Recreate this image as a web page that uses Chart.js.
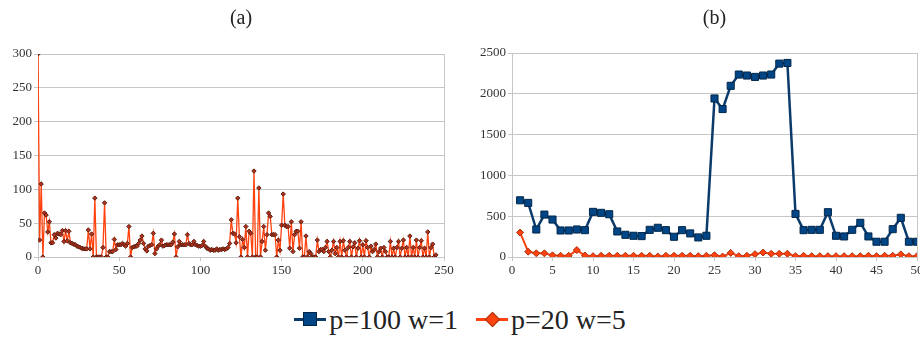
<!DOCTYPE html>
<html>
<head>
<meta charset="utf-8">
<script src="https://cdn.jsdelivr.net/npm/chart.js@4/dist/chart.umd.min.js"></script>
<style>
  html, body { margin: 0; padding: 0; background: #fff; overflow: hidden; width: 920px; height: 338px; }
  #chartA { position: absolute; left: 0; top: 0; }
  #chartB { position: absolute; left: 458px; top: 0; }
  #legend { position: absolute; left: 0; top: 304px; width: 920px; display: flex; justify-content: center;
            font-family: 'Liberation Serif', 'DejaVu Serif', 'Times New Roman', Times, 'Noto Serif', FreeSerif, serif;
            font-size: 28px; line-height: 32px; color: #222; }
  .item { display: flex; align-items: center; margin: 0 9px; }
  .sym { position: relative; width: 32px; height: 16px; margin-right: 3px; }
  .ln { position: absolute; left: 0; right: 0; top: 6px; height: 3px; }
  .mk { position: absolute; box-sizing: border-box; }
</style>
</head>
<body>
<canvas id="chartA" width="460" height="290"></canvas>
<canvas id="chartB" width="475" height="290"></canvas>
<div id="legend"></div>
<script>
// (a) one value per step, x = 0, 1, 2 ...
const valuesA = [
  300, 25, 108, 0, 65, 62, 37, 52, 21, 21,
  33, 28, 35, 34, 33, 39, 23, 39, 24, 38,
  21, 20, 19, 18, 16, 15, 14, 13, 12, 12,
  12, 40, 12, 34, 0, 87, 0, 0, 0, 0,
  14, 80, 0, 0, 8, 8, 8, 26, 11, 18,
  18, 18, 20, 18, 16, 20, 45, 0, 14, 15,
  16, 16, 20, 25, 31, 20, 12, 9, 16, 17,
  18, 35, 5, 12, 16, 18, 25, 16, 17, 18,
  18, 18, 18, 22, 34, 0, 15, 23, 18, 18,
  18, 18, 33, 20, 18, 18, 23, 18, 17, 16,
  16, 17, 23, 16, 13, 12, 10, 11, 10, 10,
  12, 10, 11, 11, 12, 11, 12, 14, 20, 55,
  35, 34, 21, 87, 30, 0, 26, 14, 45, 0,
  38, 35, 0, 127, 0, 0, 102, 0, 23, 45,
  10, 33, 65, 60, 33, 33, 33, 0, 25, 10,
  47, 93, 47, 45, 45, 13, 52, 8, 33, 38,
  38, 13, 52, 0, 0, 31, 0, 8, 5, 0,
  0, 0, 25, 8, 11, 11, 8, 14, 23, 8,
  0, 10, 23, 5, 14, 0, 23, 0, 24, 10,
  0, 14, 23, 0, 15, 21, 0, 13, 24, 0,
  18, 0, 24, 14, 0, 16, 8, 11, 19, 0,
  8, 13, 0, 14, 8, 0, 0, 23, 0, 13,
  0, 14, 23, 0, 13, 25, 0, 14, 0, 31,
  0, 14, 0, 25, 0, 14, 24, 0, 13, 0,
  37, 0, 14, 19, 0, 3
];

// (b)
const stepsB = [
  1, 2, 3, 4, 5, 6, 7, 8, 9, 10, 11, 12, 13, 14, 15, 16, 17, 18, 19, 20, 21, 22, 23, 24, 25,
  26, 27, 28, 29, 30, 31, 32, 33, 34, 35, 36, 37, 38, 39, 40, 41, 42, 43, 44, 45, 46, 47, 48, 49, 50
];
const p100w1 = [
  695, 663, 337, 520, 459, 325, 325, 337, 329, 553,
  541, 524, 313, 272, 260, 256, 333, 358, 329, 248,
  329, 289, 240, 260, 1943, 1813, 2098, 2236, 2224, 2207,
  2224, 2236, 2370, 2378, 528, 329, 333, 333, 549, 260,
  252, 333, 419, 252, 187, 187, 341, 480, 187, 187
];
const p20w5 = [
  300, 65, 45, 45, 20, 15, 15, 85, 18, 10,
  15, 15, 15, 15, 15, 15, 15, 5, 15, 15,
  15, 15, 10, 15, 22, 5, 50, 10, 15, 35,
  55, 40, 40, 40, 10, 15, 10, 10, 10, 10,
  10, 10, 10, 15, 10, 15, 15, 32, 10, 10
];

const ticksA = { x: [0, 250, 50], y: [0, 300, 50] };
const ticksB = { x: [0, 50, 5], y: [0, 2500, 500] };
const titles = ['(a)', '(b)'];
const seriesNames = ['p=100 w=1', 'p=20 w=5'];

const serif = "'Liberation Serif', 'DejaVu Serif', 'Times New Roman', Times, 'Noto Serif', FreeSerif, serif";
const gridGray = '#c6c6c6';

function axes(t, yWidth) {
  return {
    x: {
      type: 'linear', min: t.x[0], max: t.x[1],
      ticks: { stepSize: t.x[2], color: '#333', padding: 2, font: { family: serif, size: 13 }, callback: v => String(v) },
      grid: {
        tickLength: 4, tickColor: gridGray, lineWidth: 1,
        color: ctx => ctx.tick && ctx.tick.value === t.x[1] ? gridGray : 'rgba(0,0,0,0)'
      },
      border: { color: gridGray },
      afterFit: s => { s.height = 22; }
    },
    y: {
      min: t.y[0], max: t.y[1],
      ticks: { stepSize: t.y[2], color: '#333', padding: 2, font: { family: serif, size: 13 }, callback: v => String(v) },
      grid: { tickLength: 4, color: gridGray, lineWidth: 1 },
      border: { color: gridGray },
      afterFit: s => { s.width = yWidth; }
    }
  };
}

function titleOpts(text, padBottom) {
  return {
    display: true, text: text, fullSize: false, color: '#222',
    font: { family: serif, size: 20, weight: 'normal' },
    padding: { top: 7, bottom: padBottom }
  };
}

new Chart(document.getElementById('chartA'), {
  type: 'line',
  data: {
    datasets: [{
      label: seriesNames[1],
      data: valuesA.map((v, i) => ({ x: i, y: v })),
      borderColor: '#ff420e', borderWidth: 1.3,
      pointStyle: 'rectRot', pointRadius: 2.2,
      pointBackgroundColor: '#b5321a', pointBorderColor: '#5c1e12', pointBorderWidth: 1,
      tension: 0
    }]
  },
  options: {
    responsive: false, animation: false,
    layout: { padding: { left: 0, right: 16, bottom: 11 } },
    plugins: { legend: { display: false }, tooltip: { enabled: false }, title: titleOpts(titles[0], 23) },
    scales: axes(ticksA, 38)
  }
});

const chartB = new Chart(document.getElementById('chartB'), {
  type: 'line',
  data: {
    labels: stepsB,
    datasets: [{
      label: seriesNames[0],
      data: stepsB.map((x, i) => ({ x: x, y: p100w1[i] })),
      borderColor: '#0b3b6b', borderWidth: 2.5,
      pointStyle: 'rect', pointRadius: 5,
      pointBackgroundColor: '#004586', pointBorderColor: '#00264a', pointBorderWidth: 1
    }, {
      label: seriesNames[1],
      data: stepsB.map((x, i) => ({ x: x, y: p20w5[i] })),
      borderColor: '#ff420e', borderWidth: 2,
      pointStyle: 'rectRot', pointRadius: 3.5,
      pointBackgroundColor: '#ff420e', pointBorderColor: '#a8300c', pointBorderWidth: 1
    }]
  },
  options: {
    responsive: false, animation: false,
    layout: { padding: { left: 0, right: 16, bottom: 11 } },
    plugins: { legend: { display: false }, tooltip: { enabled: false }, title: titleOpts(titles[1], 22) },
    scales: axes(ticksB, 54)
  }
});

// shared legend under both panels, built from chart (b)'s datasets
const legend = document.getElementById('legend');
chartB.data.datasets.forEach(ds => {
  const item = document.createElement('div');
  item.className = 'item';
  const sym = document.createElement('span');
  sym.className = 'sym';
  const ln = document.createElement('span');
  ln.className = 'ln';
  ln.style.background = ds.borderColor;
  const mk = document.createElement('span');
  mk.className = 'mk';
  mk.style.background = ds.pointBackgroundColor;
  mk.style.border = '1px solid ' + ds.pointBorderColor;
  if (ds.pointStyle === 'rect') {
    mk.style.width = '14px'; mk.style.height = '14px'; mk.style.left = '9px'; mk.style.top = '0px';
  } else {
    mk.style.width = '11px'; mk.style.height = '11px'; mk.style.left = '10.5px'; mk.style.top = '2px';
    mk.style.transform = 'rotate(45deg)';
  }
  sym.appendChild(ln);
  sym.appendChild(mk);
  const txt = document.createElement('span');
  txt.textContent = ds.label;
  item.appendChild(sym);
  item.appendChild(txt);
  legend.appendChild(item);
});
</script>
</body>
</html>
